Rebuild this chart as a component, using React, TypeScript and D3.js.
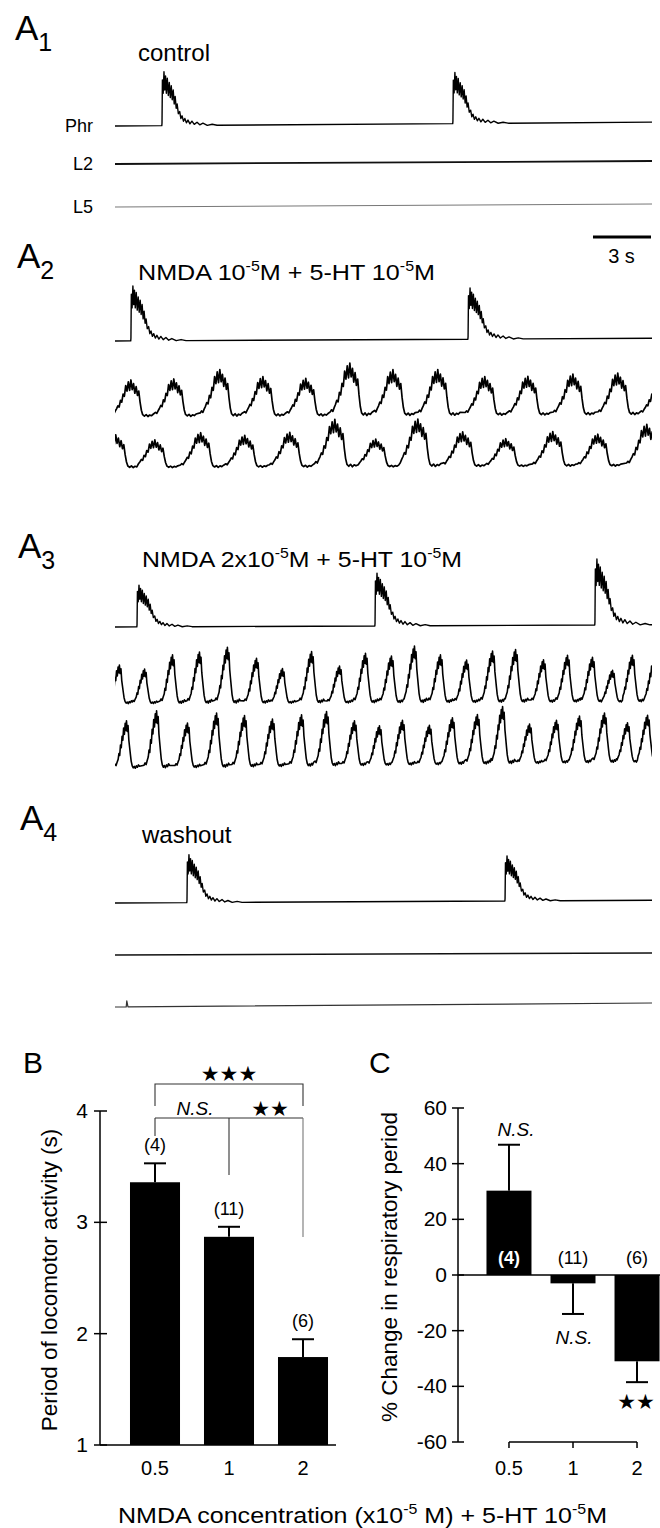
import React from "react";
import * as d3 from "d3";

const W = 660;
const H = 1528;
const FONT = "'Liberation Sans', Arial, Helvetica, sans-serif";
const STAR_FONT = "'DejaVu Sans', sans-serif";

// ---- recordings (panel A) ----
const recDuration = 27.3; // s shown in each sweep
const scaleBarSec = 3;

// phrenic bursts: [onset (s), relative amplitude]
const a1PhrBursts: [number, number][] = [[2.39, 0.98], [17.18, 0.93]];
const a2PhrBursts: [number, number][] = [[0.81, 1.0], [17.95, 0.93]];
const a3PhrBursts: [number, number][] = [[1.12, 0.76], [13.22, 0.96], [24.4, 1.2]];
const a4PhrBursts: [number, number][] = [[3.66, 0.87], [19.83, 0.82]];

// locomotor bursts: [burst centre (s), relative amplitude]
const a2L2Bursts: [number, number][] = [
  [0.92, 0.88], [3.1, 0.9], [5.44, 1.12], [7.63, 0.95], [9.81, 0.9], [12.05, 1.26], [14.24, 1.1],
  [16.52, 1.1], [18.91, 0.93], [21.1, 0.93], [23.39, 0.98], [25.67, 1.0], [27.8, 0.8],
];
const a2L5Bursts: [number, number][] = [
  [0.15, 0.95], [2.14, 0.8], [4.47, 1.0], [6.71, 0.92], [9.0, 1.0], [11.29, 1.37], [13.37, 0.8],
  [15.51, 1.37], [17.79, 1.0], [19.98, 0.8], [22.37, 1.0], [24.66, 0.92], [27.15, 1.2],
];
const a3L2Bursts: [number, number][] = [
  [0.25, 0.83], [1.53, 0.74], [2.95, 1.04], [4.32, 1.1], [5.74, 1.2], [7.22, 0.96], [8.54, 0.74],
  [10.02, 1.1], [11.44, 0.79], [12.76, 1.06], [14.08, 1.0], [15.25, 1.21], [16.57, 1.02],
  [17.9, 0.91], [19.22, 1.1], [20.39, 1.13], [21.81, 0.91], [23.03, 1.0], [24.3, 0.96],
  [25.32, 0.68], [26.33, 1.0], [27.45, 0.9],
];
const a3L5Bursts: [number, number][] = [
  [0.61, 1.0], [2.14, 1.2], [3.71, 0.94], [5.19, 1.14], [6.61, 1.08], [8.03, 1.0], [9.51, 1.08],
  [10.78, 1.14], [12.2, 0.94], [13.47, 0.83], [14.64, 0.94], [16.01, 0.83], [17.18, 0.98],
  [18.45, 1.04], [19.73, 1.2], [21.1, 0.83], [22.47, 0.9], [23.64, 0.98], [24.91, 1.04],
  [26.08, 0.83], [27.1, 0.98],
];
// small artefact on washout L5: [time (s), amplitude]
const a4L5Events: [number, number][] = [[0.6, 0.12]];

// baseline drift over the sweep: [start, end] (relative units)
const a1Drift = { phr: [0, 0.07], l2: [0, 0.06], l5: [0, 0.06] };
const a2Drift = { phr: [0, 0.05], l2: [0, 0.05], l5: [0, 0.05] };
const a3Drift = { phr: [0, 0.04], l2: [0, 0.04], l5: [0, 0.14] };
const a4Drift = { phr: [0, 0.05], l2: [0, 0.04], l5: [0, 0.08] };

// typical phrenic burst envelope: [time after onset (s), level]
const phrBurstShape: [number, number][] = [
  [-0.01, 0], [0.0, 0.05], [0.02, 0.85], [0.06, 0.6], [0.1, 1.0], [0.14, 0.66], [0.18, 0.92],
  [0.22, 0.6], [0.27, 0.88], [0.32, 0.56], [0.37, 0.8], [0.42, 0.52], [0.47, 0.74], [0.52, 0.48],
  [0.57, 0.66], [0.62, 0.4], [0.67, 0.54], [0.72, 0.32], [0.77, 0.4], [0.83, 0.22], [0.9, 0.26],
  [0.96, 0.13], [1.02, 0.18], [1.09, 0.08], [1.16, 0.13], [1.24, 0.05], [1.32, 0.1], [1.42, 0.03],
  [1.52, 0.08], [1.64, 0.02], [1.78, 0.06], [1.92, 0.01], [2.08, 0.04], [2.3, 0.0], [2.55, 0.02],
  [2.8, 0],
];
// broad ventral root burst (A2): [phase re. centre (cycles), level]
const broadBurstShape: [number, number][] = [
  [-0.5, 0.08], [-0.47, 0.12], [-0.44, 0.09], [-0.41, 0.16], [-0.38, 0.22], [-0.35, 0.3],
  [-0.32, 0.27], [-0.29, 0.45], [-0.26, 0.4], [-0.23, 0.62], [-0.2, 0.56], [-0.17, 0.85],
  [-0.14, 0.7], [-0.11, 0.95], [-0.08, 0.72], [-0.05, 1.0], [-0.02, 0.74], [0.01, 0.9],
  [0.04, 0.64], [0.07, 0.82], [0.1, 0.58], [0.13, 0.7], [0.16, 0.4], [0.19, 0.18], [0.22, 0.06],
  [0.26, 0.02], [0.3, 0.06], [0.34, 0.01], [0.38, 0.05], [0.42, 0.03], [0.46, 0.07],
];
// peaked ventral root burst (A3)
const peakedBurstShape: [number, number][] = [
  [-0.5, 0.06], [-0.46, 0.1], [-0.42, 0.07], [-0.38, 0.14], [-0.34, 0.2], [-0.31, 0.32],
  [-0.28, 0.28], [-0.25, 0.5], [-0.22, 0.44], [-0.19, 0.68], [-0.16, 0.6], [-0.13, 0.85],
  [-0.1, 0.72], [-0.07, 0.95], [-0.04, 0.8], [-0.02, 1.0], [0.01, 0.78], [0.04, 0.9], [0.07, 0.6],
  [0.1, 0.45], [0.13, 0.3], [0.16, 0.16], [0.2, 0.06], [0.24, 0.02], [0.28, 0.05], [0.32, 0.01],
  [0.36, 0.06], [0.4, 0.03], [0.44, 0.08], [0.48, 0.05],
];

// ---- panel B ----
const doses = ["0.5", "1", "2"];
const locoPeriod = [3.36, 2.87, 1.79];
const locoPeriodSem = [0.17, 0.09, 0.16];
const locoN = ["(4)", "(11)", "(6)"];
const bTicks = [1, 2, 3, 4];

// ---- panel C ----
const respChange = [30.3, -3, -31];
const respChangeSem = [16.5, 11, 7.5];
const respN = ["(4)", "(11)", "(6)"];
const cTicks = [-60, -40, -20, 0, 20, 40, 60];

type Pt = { t: number; v: number };

function withDrift(pts: Pt[], drift: number[]): Pt[] {
  return pts.map((p) => ({ t: p.t, v: p.v + drift[0] + ((drift[1] - drift[0]) * p.t) / recDuration }));
}

function phrTrace(bursts: [number, number][], drift: number[]): Pt[] {
  const pts: Pt[] = [{ t: 0, v: 0 }];
  bursts.forEach(([t0, a]) =>
    phrBurstShape.forEach(([dt, lv]) => {
      const t = t0 + dt;
      if (t > 0 && t < recDuration) pts.push({ t, v: lv * a });
    })
  );
  pts.push({ t: recDuration, v: 0 });
  pts.sort((a, b) => a.t - b.t);
  return withDrift(pts, drift);
}

function locoTrace(bursts: [number, number][], shape: [number, number][], drift: number[]): Pt[] {
  const centres = bursts.map((b) => b[0]);
  const period = d3.median(d3.pairs(centres, (a, b) => b - a)) as number;
  const pts: Pt[] = [];
  bursts.forEach(([c, a], i) => {
    const lo = i > 0 ? (centres[i - 1] + c) / 2 : -Infinity;
    const hi = i < bursts.length - 1 ? (c + centres[i + 1]) / 2 : Infinity;
    shape.forEach(([ph, lv]) => {
      const t = c + ph * period;
      if (t >= lo && t < hi) pts.push({ t, v: lv * a });
    });
  });
  return withDrift(pts, drift);
}

function flatTrace(drift: number[], events: [number, number][] = []): Pt[] {
  const pts: Pt[] = [{ t: 0, v: 0 }];
  events.forEach(([t, a]) => {
    pts.push({ t: t - 0.03, v: 0 }, { t, v: a }, { t: t + 0.06, v: 0 });
  });
  pts.push({ t: recDuration, v: 0 });
  return withDrift(pts, drift);
}

function PanelLabel({ x, y, letter, sub }: { x: number; y: number; letter: string; sub?: string }) {
  return (
    <text x={x} y={y} fontSize={35} fill="#000">
      {letter}
      {sub && (
        <tspan fontSize={25} dy={11}>
          {sub}
        </tspan>
      )}
    </text>
  );
}

export default function App() {
  const xT = d3.scaleLinear().domain([0, recDuration]).range([115, 652]);

  const rows = [
    { pts: phrTrace(a1PhrBursts, a1Drift.phr), base: 126, unit: 55, w: 1.4, c: "#000" },
    { pts: flatTrace(a1Drift.l2), base: 164, unit: 50, w: 1.8, c: "#111" },
    { pts: flatTrace(a1Drift.l5), base: 207, unit: 50, w: 1, c: "#777" },
    { pts: phrTrace(a2PhrBursts, a2Drift.phr), base: 341, unit: 55, w: 1.4, c: "#000" },
    { pts: locoTrace(a2L2Bursts, broadBurstShape, a2Drift.l2), base: 417, unit: 42, w: 1.7, c: "#000" },
    { pts: locoTrace(a2L5Bursts, broadBurstShape, a2Drift.l5), base: 468, unit: 35, w: 1.7, c: "#000" },
    { pts: phrTrace(a3PhrBursts, a3Drift.phr), base: 627, unit: 55, w: 1.4, c: "#000" },
    { pts: locoTrace(a3L2Bursts, peakedBurstShape, a3Drift.l2), base: 704, unit: 47, w: 1.6, c: "#000" },
    { pts: locoTrace(a3L5Bursts, peakedBurstShape, a3Drift.l5), base: 769, unit: 48, w: 1.6, c: "#000" },
    { pts: phrTrace(a4PhrBursts, a4Drift.phr), base: 903, unit: 55, w: 1.4, c: "#000" },
    { pts: flatTrace(a4Drift.l2), base: 955, unit: 50, w: 1.4, c: "#111" },
    { pts: flatTrace(a4Drift.l5, a4L5Events), base: 1007, unit: 50, w: 1.2, c: "#333" },
  ];

  // panel B scales
  const xB = d3.scaleBand().domain(doses).range([118, 340]).paddingInner(0.324).paddingOuter(0.162);
  const yB = d3.scaleLinear().domain([1, 4]).range([1445, 1111]);
  const cB = (d: string) => (xB(d) as number) + xB.bandwidth() / 2;

  // panel C scales
  const xC = d3.scaleBand().domain(doses).range([477, 669]).paddingInner(0.297).paddingOuter(0.148);
  const yC = d3.scaleLinear().domain([-60, 60]).range([1442, 1108]);
  const cC = (d: string) => (xC(d) as number) + xC.bandwidth() / 2;

  const capW = 11;

  return (
    <svg
      width={W}
      height={H}
      style={{ position: "absolute", left: 0, top: 0, background: "#fff" }}
      fontFamily={FONT}
    >
      <defs>
        <clipPath id="sweep">
          <rect x={xT(0)} y={0} width={xT(recDuration) - xT(0)} height={1040} />
        </clipPath>
      </defs>

      {/* panel A */}
      <PanelLabel x={15} y={40} letter="A" sub="1" />
      <PanelLabel x={17} y={268} letter="A" sub="2" />
      <PanelLabel x={18} y={558} letter="A" sub="3" />
      <PanelLabel x={20} y={830} letter="A" sub="4" />

      <text x={138} y={61} fontSize={24}>control</text>
      <text x={138} y={280} fontSize={22} textLength={297} lengthAdjust="spacingAndGlyphs">
        NMDA 10<tspan fontSize={14} dy={-9}>-5</tspan>
        <tspan dy={9}>M + 5-HT 10</tspan>
        <tspan fontSize={14} dy={-9}>-5</tspan>
        <tspan dy={9}>M</tspan>
      </text>
      <text x={142} y={567} fontSize={22} textLength={320} lengthAdjust="spacingAndGlyphs">
        NMDA 2x10<tspan fontSize={14} dy={-9}>-5</tspan>
        <tspan dy={9}>M + 5-HT 10</tspan>
        <tspan fontSize={14} dy={-9}>-5</tspan>
        <tspan dy={9}>M</tspan>
      </text>
      <text x={142} y={843} fontSize={24}>washout</text>

      <g fontSize={18} textAnchor="end">
        <text x={93} y={132}>Phr</text>
        <text x={93} y={170}>L2</text>
        <text x={93} y={213}>L5</text>
      </g>

      <g clipPath="url(#sweep)" fill="none" strokeLinejoin="round">
        {rows.map((r, i) => {
          const y = d3.scaleLinear().domain([0, 1]).range([r.base, r.base - r.unit]);
          const line = d3
            .line<Pt>()
            .x((d) => xT(d.t))
            .y((d) => y(d.v));
          return <path key={i} d={line(r.pts) as string} stroke={r.c} strokeWidth={r.w} />;
        })}
      </g>

      {/* time scale bar */}
      <line
        x1={xT(recDuration) - (xT(scaleBarSec) - xT(0))}
        x2={xT(recDuration) - 1}
        y1={237}
        y2={237}
        stroke="#000"
        strokeWidth={3}
      />
      <text x={xT(recDuration) - (xT(scaleBarSec) - xT(0)) / 2 - 1} y={263} fontSize={20} textAnchor="middle">
        3 s
      </text>

      {/* panel B */}
      <text x={23} y={1073} fontSize={30}>B</text>
      <g stroke="#000" strokeWidth={1.5}>
        <line x1={100} x2={100} y1={yB(4)} y2={yB(1)} />
        <line x1={100} x2={336} y1={yB(1)} y2={yB(1)} />
        {bTicks.map((t) => (
          <line key={t} x1={94} x2={107} y1={yB(t)} y2={yB(t)} />
        ))}
      </g>
      <g fontSize={21} textAnchor="end">
        {bTicks.map((t) => (
          <text key={t} x={88} y={yB(t) + 7}>
            {t}
          </text>
        ))}
      </g>
      {doses.map((d, i) => (
        <g key={d}>
          <rect x={xB(d)} y={yB(locoPeriod[i])} width={xB.bandwidth()} height={yB(1) - yB(locoPeriod[i])} fill="#000" />
          <line x1={cB(d)} x2={cB(d)} y1={yB(locoPeriod[i])} y2={yB(locoPeriod[i] + locoPeriodSem[i])} stroke="#000" strokeWidth={2} />
          <line x1={cB(d) - capW} x2={cB(d) + capW} y1={yB(locoPeriod[i] + locoPeriodSem[i])} y2={yB(locoPeriod[i] + locoPeriodSem[i])} stroke="#000" strokeWidth={2} />
          <text x={cB(d)} y={yB(locoPeriod[i] + locoPeriodSem[i]) - 12} fontSize={18} textAnchor="middle">
            {locoN[i]}
          </text>
          <text x={cB(d)} y={1475} fontSize={20} textAnchor="middle">
            {d}
          </text>
        </g>
      ))}
      <text transform={`translate(57,${(yB(1) + yB(4)) / 2 + 2}) rotate(-90)`} fontSize={22.5} textAnchor="middle">
        Period of locomotor activity (s)
      </text>
      {/* significance brackets */}
      <g stroke="#333" strokeWidth={1.1} fill="none">
        <polyline points={`${cB("0.5")},1106 ${cB("0.5")},1084 ${cB("2")},1084 ${cB("2")},1106`} />
        <line x1={cB("0.5")} x2={cB("2")} y1={1118} y2={1118} />
        <line x1={cB("0.5")} x2={cB("0.5")} y1={1118} y2={1136} />
        <line x1={cB("1")} x2={cB("1")} y1={1118} y2={1175} />
        <line x1={cB("2")} x2={cB("2")} y1={1118} y2={1237} stroke="#777" />
      </g>
      <text x={(cB("0.5") + cB("2")) / 2} y={1081} fontSize={21} fontFamily={STAR_FONT} textAnchor="middle">
        ★★★
      </text>
      <text x={(cB("0.5") + cB("1")) / 2 + 3} y={1115} fontSize={19} fontStyle="italic" textAnchor="middle">
        N.S.
      </text>
      <text x={(cB("1") + cB("2")) / 2 + 4} y={1116} fontSize={21} fontFamily={STAR_FONT} textAnchor="middle">
        ★★
      </text>

      {/* panel C */}
      <text x={369} y={1073} fontSize={30}>C</text>
      <g stroke="#000" strokeWidth={1.5}>
        <line x1={458} x2={458} y1={yC(60)} y2={yC(-60)} />
        {cTicks.map((t) => (
          <line key={t} x1={452} x2={464} y1={yC(t)} y2={yC(t)} />
        ))}
      </g>
      <g fontSize={21} textAnchor="end">
        {cTicks.map((t) => (
          <text key={t} x={447} y={yC(t) + 7}>
            {t}
          </text>
        ))}
      </g>
      {doses.map((d, i) => {
        const v = respChange[i];
        const e = v >= 0 ? v + respChangeSem[i] : v - respChangeSem[i];
        return (
          <g key={d}>
            <rect x={xC(d)} y={yC(Math.max(v, 0))} width={xC.bandwidth()} height={Math.abs(yC(v) - yC(0))} fill="#000" />
            <line x1={cC(d)} x2={cC(d)} y1={yC(v)} y2={yC(e)} stroke="#000" strokeWidth={2} />
            <line x1={cC(d) - capW} x2={cC(d) + capW} y1={yC(e)} y2={yC(e)} stroke="#000" strokeWidth={2} />
            <text
              x={cC(d)}
              y={yC(0) - 11}
              fontSize={18}
              textAnchor="middle"
              fill={v >= 0 ? "#fff" : "#000"}
              fontWeight={v >= 0 ? "bold" : "normal"}
            >
              {respN[i]}
            </text>
            <text x={cC(d)} y={1475} fontSize={20} textAnchor="middle">
              {d}
            </text>
          </g>
        );
      })}
      <line x1={458} x2={W} y1={yC(0)} y2={yC(0)} stroke="#000" strokeWidth={1.5} />
      <g stroke="#000" strokeWidth={1.5}>
        <line x1={cC("0.5")} x2={cC("2")} y1={yC(-60)} y2={yC(-60)} />
        {doses.map((d) => (
          <line key={d} x1={cC(d)} x2={cC(d)} y1={yC(-60)} y2={yC(-60) + 6} />
        ))}
      </g>
      <text x={cC("0.5") + 7} y={yC(respChange[0] + respChangeSem[0]) - 9} fontSize={19} fontStyle="italic" textAnchor="middle">
        N.S.
      </text>
      <text x={cC("1") + 1} y={yC(respChange[1] - respChangeSem[1]) + 30} fontSize={19} fontStyle="italic" textAnchor="middle">
        N.S.
      </text>
      <text x={cC("2") - 1} y={yC(respChange[2] - respChangeSem[2]) + 27} fontSize={21} fontFamily={STAR_FONT} textAnchor="middle">
        ★★
      </text>
      <text transform={`translate(397,${(yC(60) + yC(-60)) / 2 - 8}) rotate(-90)`} fontSize={22.5} textAnchor="middle">
        % Change in respiratory period
      </text>

      {/* shared x label */}
      <text x={118} y={1523} fontSize={22} textLength={489} lengthAdjust="spacingAndGlyphs">
        NMDA concentration (x10<tspan fontSize={14} dy={-9}>-5</tspan>
        <tspan dy={9}> M) + 5-HT 10</tspan>
        <tspan fontSize={14} dy={-9}>-5</tspan>
        <tspan dy={9}>M</tspan>
      </text>
    </svg>
  );
}
